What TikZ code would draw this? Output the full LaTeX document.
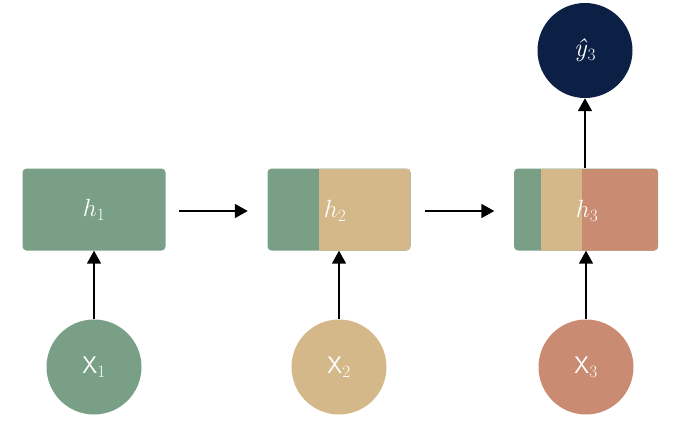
\documentclass[tikz,border=0pt]{standalone}
\usetikzlibrary{arrows.meta}
\definecolor{cgreen}{HTML}{7A9F87}
\definecolor{ctan}{HTML}{D4B88A}
\definecolor{csalmon}{HTML}{C98B72}
\definecolor{cnavy}{HTML}{0C1F45}
\begin{document}
\begin{tikzpicture}[x=1pt,y=-1pt,
  hbox/.style={rectangle, rounded corners=4pt, minimum width=143pt, minimum height=82pt, inner sep=0pt, text=white, font=\fontsize{26}{28}\selectfont},
  hlabel/.style={text=white, inner sep=0pt, font=\fontsize{26}{28}\selectfont},
  inp/.style={circle, minimum size=95pt, inner sep=0pt, text=white, font=\sffamily\fontsize{24}{26}\selectfont},
  conn/.style={line width=1.8pt, -{Triangle[width=14pt,length=13pt]}}]
\useasboundingbox (0,0) rectangle (680,423);
\node[hbox, fill=cgreen] (h1) at (94,209.5) {$h_1$};
\node[hbox, fill=cgreen, path picture={\fill[ctan, sharp corners] ([xshift=51.5pt]path picture bounding box.south west) rectangle (path picture bounding box.north east);}] (h2) at (339,209.5) {};
\node[hlabel] (l2) at (335,211) {$h_2$};
\node[hbox, fill=cgreen, minimum width=144pt, path picture={\fill[ctan, sharp corners] ([xshift=27pt]path picture bounding box.south west) rectangle (path picture bounding box.north east); \fill[csalmon, sharp corners] ([xshift=68pt]path picture bounding box.south west) rectangle (path picture bounding box.north east);}] (h3) at (586,209.5) {};
\node[hlabel] (l3) at (587,211) {$h_3$};
\node[inp, fill=cnavy, font=\fontsize{26}{28}\selectfont] (y3) at (585,50.5) {\textit{ŷ}$_3$};
\node[inp, fill=cgreen] (x1) at (94,367) {X$_1$};
\node[inp, fill=ctan] (x2) at (339,367) {X$_2$};
\node[inp, fill=csalmon] (x3) at (586,367) {X$_3$};
\draw[conn] ([xshift=13.5pt,yshift=-1.5pt]h1.east) -- ([xshift=-19.5pt,yshift=-1.5pt]h2.west);
\draw[conn] ([xshift=14pt,yshift=-1.5pt]h2.east) -- ([xshift=-19.5pt,yshift=-1.5pt]h3.west);
\draw[conn] (x1.north) -- (x1.north |- h1.south);
\draw[conn] (x2.north) -- (x2.north |- h2.south);
\draw[conn] (x3.north) -- (x3.north |- h3.south);
\draw[conn] (y3.south |- h3.north) -- (y3.south);
\end{tikzpicture}
\end{document}
